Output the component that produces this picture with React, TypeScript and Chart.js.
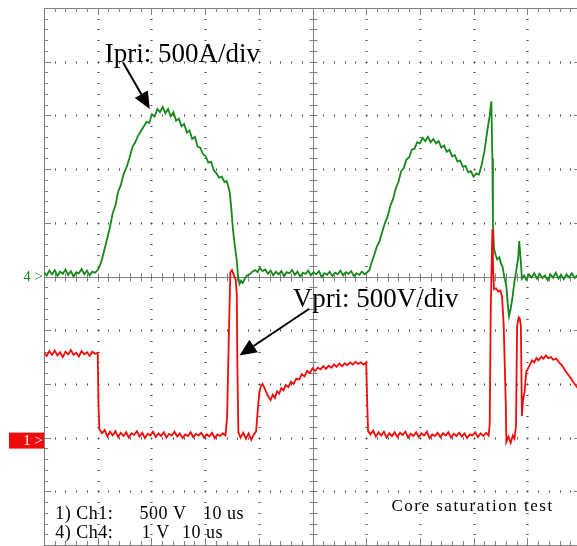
import React, { useEffect, useRef } from 'react';
import { Chart, registerables } from 'chart.js';

Chart.register(...registerables);

// ---- Data (time in µs, 10 µs/div; Ipri in A, 500 A/div; Vpri in V, 500 V/div) ----
const TIME_MIN = 0;
const TIME_MAX = 100;
const IPRI_MIN = -2500;
const IPRI_MAX = 2500;
const VPRI_MIN = -1000;
const VPRI_MAX = 4000;

const IPRI_TRACE: [number, number][] = [
  [0, 40], [0.5, 10], [1, 55], [1.5, 20], [2, 60], [2.5, 5], [3, 45], [3.5, 25], [4, 65], [4.5, 15], [5, 50], [5.5, 0], [6, 40], [6.5, 30], [7, 70], [7.5, 20], [8, 55], [8.5, 10], [9, 45], [9.5, 35], [10, 60],
  [10.4, 100], [10.8, 160], [11.2, 240], [11.7, 340], [12.2, 440], [12.8, 590], [13.3, 660], [13.8, 790], [14.3, 850], [14.8, 950], [15.4, 1020], [15.9, 1100], [16.5, 1210], [17.0, 1250], [17.5, 1310], [18.0, 1350], [18.5, 1390], [19.1, 1440], [19.6, 1430], [20.1, 1510], [20.6, 1490], [21.1, 1560], [21.6, 1530], [22.1, 1580], [22.6, 1520], [23.1, 1560], [23.6, 1490], [24.1, 1530], [24.6, 1450], [25.1, 1470], [25.6, 1400], [26.1, 1420], [26.6, 1340], [27.1, 1360], [27.6, 1280], [28.1, 1300], [28.6, 1210], [29.1, 1200], [29.6, 1140], [30.1, 1120], [30.6, 1060], [31.1, 1070], [31.6, 990], [32.1, 960], [32.6, 920], [33.1, 930], [33.6, 880], [34.0, 890], [34.3, 840], [34.6, 780], [34.9, 620], [35.2, 430], [35.5, 300], [35.9, 150], [36.1, 20], [36.4, -70], [36.7, -40], [37.0, -60], [37.4, -20], [37.8, 10], [38.3, 20], [38.8, 45], [39.3, 60], [39.8, 40], [40.2, 80], [40.7, 50], [41.2, 65], [41.7, 25], [42.2, 55],
  [42.7, 10], [43.2, 45], [43.7, 20], [44.2, 50], [44.7, 5], [45.2, 40], [45.7, 30], [46.2, 60], [46.7, 15], [47.2, 45], [47.7, 0], [48.2, 35], [48.7, 25], [49.2, 55], [49.7, 10], [50.2, 40], [50.7, 20], [51.2, 50], [51.7, -5], [52.2, 30], [52.7, 15], [53.2, 45], [53.7, 5], [54.2, 35], [54.7, 20], [55.2, 55], [55.7, 10], [56.2, 40], [56.7, 25], [57.2, 50], [57.7, 5], [58.2, 30], [58.7, 15], [59.2, 45], [59.7, 20], [60.2, 40],
  [60.6, 60], [61.0, 130], [61.5, 200], [62.0, 280], [62.5, 330], [63.0, 420], [63.5, 500], [64.0, 560], [64.5, 660], [65.0, 720], [65.5, 820], [66.0, 880], [66.5, 980], [67.0, 1010], [67.5, 1090], [68.0, 1110], [68.5, 1180], [69.0, 1190], [69.5, 1250], [70.0, 1240], [70.5, 1290], [71.0, 1260], [71.5, 1300], [72.0, 1250], [72.5, 1280], [73.0, 1240], [73.5, 1260], [74.0, 1200], [74.5, 1220], [75.0, 1160], [75.5, 1180], [76.0, 1120], [76.5, 1130], [77.0, 1070], [77.5, 1080], [78.0, 1020], [78.5, 1030], [79.0, 970], [79.5, 980], [80.0, 930], [80.5, 960], [81.0, 950], [81.5, 1040], [82.0, 1160], [82.5, 1340], [83.0, 1500], [83.3, 1630], [83.5, 1100], [83.6, 500], [83.8, 260], [84.1, 200], [84.4, 160], [84.8, 180], [85.1, 120], [85.4, 90], [85.7, 0], [86.1, -90], [86.4, -280], [86.6, -370], [86.9, -300], [87.2, -210], [87.6, -50], [87.9, 40], [88.3, 170], [88.5, 330], [88.8, 130], [89.0, -20], [89.4, 10],
  [89.8, -30], [90.3, 20], [90.8, -10], [91.3, 30], [91.8, -20], [92.3, 25], [92.8, -15], [93.3, 10], [93.8, -35], [94.3, 20], [94.8, -10], [95.3, 35], [95.8, -20], [96.3, 15], [96.8, -25], [97.3, 20], [97.8, -10], [98.3, 30], [98.8, -15], [99.3, 10], [100, -5],
];

const VPRI_TRACE: [number, number][] = [
  [0, 790], [0.5, 760], [1, 805], [1.5, 770], [2, 810], [2.5, 765], [3, 795], [3.5, 750], [4, 800], [4.5, 775], [5, 815], [5.5, 770], [6, 790], [6.5, 755], [7, 805], [7.5, 775], [8, 795], [8.5, 760], [9, 800], [9.5, 780], [10.0, 790],
  [10.15, 300], [10.3, 80], [10.8, 40], [11.3, 70], [11.8, 10], [12.3, 55], [12.8, 20], [13.3, 60], [13.8, 5], [14.3, 45], [14.8, 15], [15.3, 50], [15.8, 0], [16.3, 40], [16.8, 25], [17.3, 60], [17.8, 10], [18.3, 45], [18.8, -5], [19.3, 35], [19.8, 20], [20.3, 55], [20.8, 5], [21.3, 40], [21.8, 15], [22.3, 50], [22.8, 0], [23.3, 35], [23.8, 20], [24.3, 55], [24.8, 10], [25.3, 40], [25.8, -5], [26.3, 30], [26.8, 15], [27.3, 50], [27.8, 5], [28.3, 35], [28.8, 20], [29.3, 45], [29.8, 0], [30.3, 30], [30.8, 10], [31.3, 45], [31.8, -5], [32.3, 30], [32.8, 15], [33.3, 40], [33.8, 20],
  [34.1, 200], [34.4, 900], [34.7, 1540], [35.0, 1560], [35.3, 1520], [35.7, 1470], [35.9, 1340], [36.0, 700], [36.2, 50], [36.6, 0], [37.1, 45], [37.6, -10], [38.1, 40], [38.6, -20], [39.1, 30], [39.5, 60], [39.8, 250], [40.1, 420], [40.4, 480], [40.7, 500], [41.0, 470], [41.4, 420], [41.8, 380], [42.2, 350], [42.6, 400], [43.0, 370], [43.4, 430], [43.8, 410], [44.2, 460], [44.6, 440], [45.0, 490], [45.5, 470], [46.0, 520], [46.5, 500], [47.0, 550], [47.5, 540], [48.0, 590], [48.5, 570], [49.0, 620], [49.5, 600], [50.0, 645], [50.5, 620], [51.0, 650], [51.5, 635], [52.0, 665], [52.5, 640], [53.0, 670], [53.5, 650], [54.0, 680], [54.5, 660], [55.0, 690], [55.5, 665], [56.0, 690], [56.5, 675], [57.0, 700], [57.5, 680], [58.0, 705], [58.5, 685], [59.0, 700], [59.5, 680], [60.0, 700],
  [60.2, 300], [60.35, 60], [60.8, 30], [61.3, 65], [61.8, 10], [62.3, 50], [62.8, 20], [63.3, 55], [63.8, 0], [64.3, 40], [64.8, 15], [65.3, 50], [65.8, 5], [66.3, 45], [66.8, 25], [67.3, 55], [67.8, 0], [68.3, 35], [68.8, 15], [69.3, 50], [69.8, 5], [70.3, 40], [70.8, 20], [71.3, 55], [71.8, -5], [72.3, 30], [72.8, 15], [73.3, 45], [73.8, 5], [74.3, 40], [74.8, 20], [75.3, 50], [75.8, 0], [76.3, 35], [76.8, 15], [77.3, 45], [77.8, 10], [78.3, 40], [78.8, -5], [79.3, 30], [79.8, 20], [80.3, 50], [80.8, 5], [81.3, 40], [81.8, 15], [82.3, 45], [82.8, 20],
  [83.0, 120], [83.2, 1220], [83.5, 1940], [83.6, 1620], [83.8, 1380], [84.2, 1390], [84.6, 1360], [85.0, 1370], [85.3, 1310], [85.6, 1050], [86.0, 300], [86.1, -40], [86.5, 10], [86.9, -50], [87.3, 20], [87.6, -10], [87.9, 110], [88.1, 1040], [88.4, 1120], [88.6, 1110], [88.8, 1040], [89.0, 200], [89.2, 350], [89.5, 430], [89.8, 610], [90.3, 660], [90.9, 720], [91.3, 700], [91.7, 740], [92.1, 720], [92.6, 755], [93.0, 735], [93.5, 765], [93.9, 740], [94.4, 750], [94.8, 725], [95.4, 735], [95.9, 700], [96.5, 670], [97.1, 620], [97.8, 575], [98.4, 530], [99.1, 480], [100, 420],
];

const SERIF = "'Liberation Serif', 'Times New Roman', serif";
const GREEN = '#16881a';
const RED = '#f00a0a';

// graticule: 10 x 10 divisions, 5 minor per division
const graticulePlugin = {
  id: 'graticule',
  beforeDatasetsDraw(chart: any) {
    const { ctx, chartArea: a } = chart;
    const xs = chart.scales.x;
    const ys = chart.scales.yI;
    const px = (d: number) => xs.getPixelForValue(TIME_MIN + (d * (TIME_MAX - TIME_MIN)) / 10);
    const py = (d: number) => ys.getPixelForValue(IPRI_MIN + (d * (IPRI_MAX - IPRI_MIN)) / 10);
    const c = (v: number) => Math.round(v) + 0.5;
    ctx.save();
    ctx.strokeStyle = '#808080';
    ctx.lineWidth = 1;
    ctx.beginPath();
    ctx.rect(c(a.left), c(a.top), Math.round(a.right - a.left), Math.round(a.bottom - a.top));
    ctx.stroke();
    const cx = c(px(5));
    const cy = c(py(5));
    ctx.beginPath();
    ctx.moveTo(cx, a.top); ctx.lineTo(cx, a.bottom);
    ctx.moveTo(a.left, cy); ctx.lineTo(a.right, cy);
    for (let k = 0; k <= 50; k++) {
      const major = k % 5 === 0;
      const len = major ? 7 : 4;
      const xv = c(px(k / 5));
      const yv = c(py(k / 5));
      ctx.moveTo(xv, a.top); ctx.lineTo(xv, a.top + len);
      ctx.moveTo(xv, a.bottom); ctx.lineTo(xv, a.bottom - len);
      ctx.moveTo(a.left, yv); ctx.lineTo(a.left + len, yv);
      ctx.moveTo(a.right, yv); ctx.lineTo(a.right - len, yv);
      ctx.moveTo(xv, cy - 4); ctx.lineTo(xv, cy + 4);
      ctx.moveTo(cx - 4, yv); ctx.lineTo(cx + 4, yv);
    }
    ctx.stroke();
    // dotted major lines
    for (let i = 1; i <= 9; i++) {
      if (i === 5) continue;
      const xv = Math.round(px(i));
      const yv = Math.round(py(i));
      for (let k = 1; k < 50; k++) {
        const xx = Math.round(px(k / 5));
        const yy = Math.round(py(k / 5));
        ctx.fillStyle = '#9a9a9a';
        ctx.fillRect(xv - 1, yy, 3, 1);
        ctx.fillRect(xx, yv - 1, 1, 3);
        ctx.fillStyle = '#4a4a4a';
        ctx.fillRect(xv, yy, 1, 1);
        ctx.fillRect(xx, yv, 1, 1);
      }
    }
    ctx.restore();
  },
};

function drawArrow(ctx: CanvasRenderingContext2D, x1: number, y1: number, x2: number, y2: number) {
  const head = 17;
  const hw = 7.5;
  const ang = Math.atan2(y2 - y1, x2 - x1);
  const bx = x2 - head * Math.cos(ang);
  const by = y2 - head * Math.sin(ang);
  ctx.beginPath();
  ctx.moveTo(x1, y1);
  ctx.lineTo(bx, by);
  ctx.stroke();
  ctx.beginPath();
  ctx.moveTo(x2, y2);
  ctx.lineTo(bx + hw * Math.sin(ang), by - hw * Math.cos(ang));
  ctx.lineTo(bx - hw * Math.sin(ang), by + hw * Math.cos(ang));
  ctx.closePath();
  ctx.fill();
}

// annotation positions in (time µs, divisions from centre)
const annotationPlugin = {
  id: 'scopeText',
  afterDatasetsDraw(chart: any) {
    const { ctx, chartArea: a } = chart;
    const xs = chart.scales.x;
    const ys = chart.scales.yI;
    const vs = chart.scales.yV;
    const P = (t: number, d: number): [number, number] => [xs.getPixelForValue(t), ys.getPixelForValue(d * 500)];
    ctx.save();
    ctx.fillStyle = '#000';
    ctx.strokeStyle = '#000';
    ctx.lineWidth = 2;
    ctx.textBaseline = 'alphabetic';
    ctx.textAlign = 'left';

    ctx.font = `27px ${SERIF}`;
    let p = P(11.3, 4.0);
    ctx.fillText('Ipri: 500A/div', p[0], p[1]);
    p = P(46.3, -0.57);
    ctx.fillText('Vpri: 500V/div', p[0], p[1]);

    let s = P(14.7, 3.99), e = P(19.7, 3.12);
    drawArrow(ctx, s[0], s[1], e[0], e[1]);
    s = P(49.4, -0.6); e = P(36.4, -1.47);
    drawArrow(ctx, s[0], s[1], e[0], e[1]);

    ctx.font = `18px ${SERIF}`;
    (ctx as any).letterSpacing = '0.5px';
    const row1 = -4.51, row2 = -4.87;
    p = P(2.1, row1); ctx.fillText('1) Ch1:', p[0], p[1]);
    p = P(17.8, row1); ctx.fillText('500 V', p[0], p[1]);
    p = P(29.6, row1); ctx.fillText('10 us', p[0], p[1]);
    p = P(2.1, row2); ctx.fillText('4) Ch4:', p[0], p[1]);
    p = P(18.2, row2); ctx.fillText('1 V', p[0], p[1]);
    p = P(25.7, row2); ctx.fillText('10 us', p[0], p[1]);

    ctx.font = `17px ${SERIF}`;
    (ctx as any).letterSpacing = '1.5px';
    p = P(64.7, -4.36);
    ctx.fillText('Core saturation test', p[0], p[1]);
    (ctx as any).letterSpacing = '0px';

    // channel ground markers
    ctx.font = `15px ${SERIF}`;
    ctx.textAlign = 'right';
    ctx.textBaseline = 'middle';
    const g4 = ys.getPixelForValue(0);
    ctx.fillStyle = GREEN;
    ctx.fillText('4 >', a.left - 1, g4 + 1);
    const g1 = vs.getPixelForValue(0);
    ctx.fillStyle = RED;
    ctx.fillRect(9, g1 - 5, a.left - 9, 16);
    ctx.fillStyle = '#fff';
    ctx.fillText('1 >', a.left - 1, g1 + 3);
    ctx.restore();
  },
};

export default function App() {
  const ref = useRef<HTMLCanvasElement>(null);
  useEffect(() => {
    if (!ref.current) return;
    const chart = new Chart(ref.current, {
      type: 'line',
      data: {
        datasets: [
          {
            label: 'Vpri',
            data: VPRI_TRACE.map(([t, v]) => ({ x: t, y: v })),
            yAxisID: 'yV',
            borderColor: RED,
            borderWidth: 1.8,
            pointRadius: 0,
            tension: 0,
            fill: false,
          },
          {
            label: 'Ipri',
            data: IPRI_TRACE.map(([t, v]) => ({ x: t, y: v })),
            yAxisID: 'yI',
            borderColor: GREEN,
            borderWidth: 1.8,
            pointRadius: 0,
            tension: 0,
            fill: false,
          },
        ],
      },
      options: {
        animation: false,
        responsive: false,
        maintainAspectRatio: false,
        devicePixelRatio: 1,
        layout: { padding: { left: 44, top: 8, right: 19, bottom: 15 } },
        scales: {
          x: { type: 'linear', min: TIME_MIN, max: TIME_MAX, display: false },
          yI: { type: 'linear', min: IPRI_MIN, max: IPRI_MAX, display: false },
          yV: { type: 'linear', min: VPRI_MIN, max: VPRI_MAX, display: false },
        },
        plugins: {
          legend: { display: false },
          tooltip: { enabled: false },
        },
      } as any,
      plugins: [graticulePlugin, annotationPlugin],
    });
    return () => chart.destroy();
  }, []);
  return (
    <div style={{ position: 'fixed', left: 0, top: 0, width: 577, height: 546, overflow: 'hidden', background: '#fff' }}>
      <canvas ref={ref} width={600} height={560} style={{ display: 'block', width: 600, height: 560 }} />
    </div>
  );
}
